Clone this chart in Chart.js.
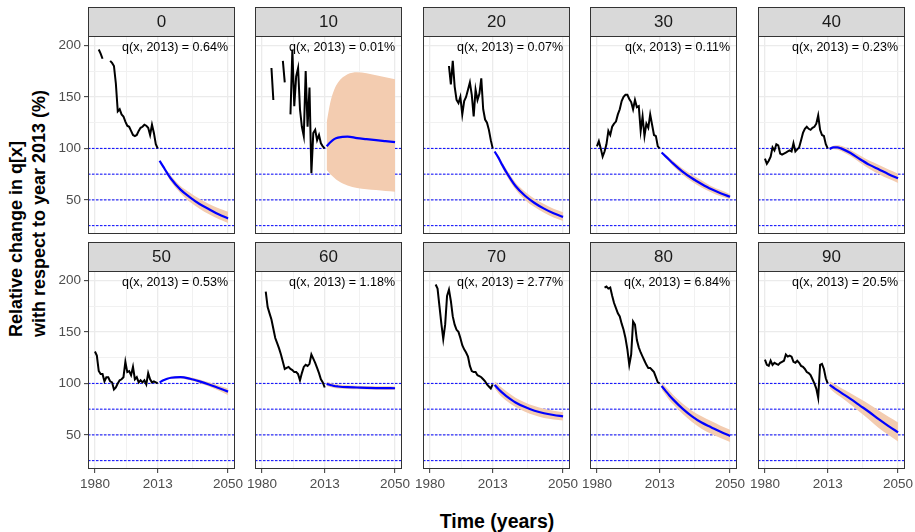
<!DOCTYPE html>
<html>
<head>
<meta charset="utf-8">
<script src="https://cdn.jsdelivr.net/npm/chart.js@4.4.0/dist/chart.umd.min.js"></script>
<style>
  html, body { margin: 0; padding: 0; background: #fff; overflow: hidden; }
  #wrap { position: relative; width: 915px; height: 532px; font-family: 'Liberation Sans', Arial, sans-serif; }
  #wrap canvas { position: absolute; }
  .ytitle { position: absolute; left: 5px; top: 337px; transform-origin: 0 0; transform: rotate(-90deg);
            white-space: pre; font-weight: bold; font-size: 18px; line-height: 23px; color: #000; }
  .xtitle { position: absolute; left: 347px; width: 300px; top: 511px; text-align: center;
            font-weight: bold; font-size: 19.5px; line-height: 20px; color: #000; }
</style>
</head>
<body>
<div id="wrap">
  <div class="ytitle">Relative change in q[x]
with respect to year 2013 (%)</div>
  <div class="xtitle">Time (years)</div>
</div>
<script>
// Facet labels (age) and the q(x, 2013) note for each panel
const ages = ["0", "10", "20", "30", "40", "50", "60", "70", "80", "90"];
const q2013 = ["0.64%", "0.01%", "0.07%", "0.11%", "0.23%", "0.53%", "1.18%", "2.77%", "6.84%", "20.5%"];

// Observed period
const histYears = [1980, 1981, 1982, 1983, 1984, 1985, 1986, 1987, 1988, 1989,
                   1990, 1991, 1992, 1993, 1994, 1995, 1996, 1997, 1998, 1999,
                   2000, 2001, 2002, 2003, 2004, 2005, 2006, 2007, 2008, 2009,
                   2010, 2011, 2012, 2013];
const histValues = [
  [null, null, 196, 192, 187, null, null, null, 185, 183, 180, 163, 136, 138, 133, 131, 126, 122, 121, 117, 113, 112, 113, 117, 120, 121, 123, 122, 120, 113, 123, 115, 104, 100],
  [null, null, null, null, null, 178, 147, null, null, null, null, 185, 164, null, null, 133, 196, 141, 170, 178, 138, 121, 112, 175, 121, 159, 76, 115, 118, 108, 113, 105, 102, 100],
  [null, null, null, null, null, null, null, null, null, null, 180, 162, 185, 160, 147, 144, 150, 133, 146, 150, 157, 164, 152, 131, 157, 147, 153, 168, 138, 128, 125, 118, 108, 100],
  [102, 107, 100, 92, 97, 104, 117, 113, 121, 124, 126, 133, 138, 146, 150, 152, 152, 148, 145, 138, 147, 140, 141, 117, 131, 112, 124, 120, 133, 123, 113, 112, 102, 100],
  [90, 85, 88, 92, 101, 98, 104, 103, 95, 94, 95, 96, 97, 98, 97, 105, 97, 99, 101, 108, 115, 119, 121, 119, 118, 120, 121, 124, 132, 118, 113, 112, 104, 100],
  [131, 127, 112, 109, 109, 102, 106, 106, 102, 101, 94, 96, 100, 103, 104, 106, 121, 111, 112, 108, 116, 104, 106, 101, 103, 101, 103, 99, 110, 104, 101, 102, 101, 100],
  [null, null, 189, 174, 168, 162, 153, 144, 139, 134, 128, 121, 114, 115, 116, 114, 113, 111, 111, 109, 103, 110, 116, 118, 117, 119, 128, 124, 120, 115, 110, 104, 101, 96],
  [null, null, null, 196, 192, 175, 158, 143, 157, 185, 191, 180, 165, 157, 152, 150, 144, 137, 133, 130, 126, 117, 112, 111, 111, 108, 107, 106, 104, 102, 99, 97, 95, 99],
  [null, null, null, null, 193, 194, 192, 193, 185, 178, 173, 168, 165, 158, 152, 144, 133, 118, 128, 160, 157, 142, 135, 130, 126, 122, 118, 115, 115, 113, 111, 106, 101, 100],
  [123, 118, 117, 122, 118, 120, 119, 118, 120, 121, 122, 128, 126, 127, 126, 121, 120, 122, 120, 117, 116, 114, 111, 110, 108, 104, 100, 95, 86, 118, 119, 114, 105, 100]
];

// Forecast period: central path and band
const fcYears = [2014, 2016, 2018, 2020, 2025, 2030, 2035, 2040, 2045, 2050];
const fcMean = [
  [88, 82, 76, 70.5, 60, 52.5, 46, 41, 36, 32],
  [102, 106, 109, 110.5, 111.5, 110, 109, 108, 107, 106],
  [97, 91, 84, 77.5, 63.5, 54, 47, 41.5, 37, 33.5],
  [96, 92.5, 89, 85.5, 77.5, 71, 65.5, 60.5, 56.5, 53],
  [99.5, 101, 101, 100, 95.5, 89.5, 84, 79.5, 75, 71],
  [101, 103, 104.5, 105.5, 106, 104.5, 102, 99, 95.5, 92],
  [99.5, 98.5, 97.5, 97, 96.3, 96, 95.7, 95.5, 95.4, 95.3],
  [98.5, 94.5, 91, 88, 81.5, 77, 73.5, 71, 69.3, 68],
  [97.5, 93, 88.5, 84.5, 75.5, 68, 62, 57.5, 53, 49],
  [98.5, 96, 93.5, 91, 85, 78.5, 72, 65, 58.5, 52.5]
];
const fcLower = [
  [87, 80.5, 74, 67.5, 56.5, 48, 41.5, 36, 31.5, 27.5],
  [79, 75, 71.5, 68.5, 64, 61.5, 60.3, 59.5, 58.7, 58],
  [96, 89, 81.5, 74.5, 60, 50, 43, 37.5, 33, 29.5],
  [95, 91, 87, 83, 74.5, 67.5, 62, 57.5, 53.5, 50.5],
  [98.5, 99.5, 99, 97.5, 92.5, 86, 80, 75, 70.5, 66.5],
  [100.5, 102.5, 103.8, 104.6, 104.8, 103, 100.2, 97, 93, 88.5],
  [97.5, 96.5, 95.5, 95, 94.5, 94.2, 94, 93.8, 93.7, 93.6],
  [95, 90.5, 86.5, 83.5, 77, 72.5, 69, 66.5, 65, 64],
  [94, 89, 84, 80, 70.5, 62.5, 56, 51, 47, 43],
  [95, 92, 89, 86.5, 79.5, 72, 64.5, 56.5, 50, 43.5]
];
const fcUpper = [
  [89, 83.5, 78, 73.5, 63.5, 57, 51, 46, 42, 38.5],
  [125, 145, 157, 164, 172, 174, 173, 171, 169, 167],
  [98, 93, 86.5, 80.5, 67, 58, 51, 46, 41.5, 38],
  [97, 94, 91, 88, 80.5, 74.5, 69, 63.5, 59.5, 55.5],
  [100.5, 102.5, 103, 102.5, 98.5, 93, 88, 84, 79.5, 75.5],
  [101.5, 103.5, 105.2, 106.4, 107.2, 106, 103.8, 101, 98, 95],
  [101.5, 100.5, 99.5, 99, 98.2, 97.8, 97.5, 97.3, 97.2, 97],
  [102, 98.5, 95.5, 92.5, 86, 81.5, 78, 75.5, 73.5, 72],
  [101, 97, 93, 89, 80.5, 73.5, 68, 63.5, 59, 55],
  [102, 100, 98, 95.5, 90.5, 85, 79.5, 73.5, 67.5, 62]
];

// Reference levels and axes
const refLevels = [25, 50, 75, 100];
const xTicks = [1980, 1996.5, 2013, 2031.5, 2050];
const xLabelled = [1980, 2013, 2050];
const yTicks = [25, 50, 75, 100, 125, 150, 175, 200];
const yLabelled = [50, 100, 150, 200];
const xRange = [1976.35, 2053.65];
const yRange = [16.9, 209.1];
const noteX = 2050, noteY = 198;

// Panel geometry
const colLeft = [88, 255, 423, 590, 758];
const rowTop = [7, 242];
const panelW = 147, plotH = 198, stripH = 29, axisW = 45, axisH = 25, padRight = 10;

const FONT = "'Liberation Sans', Arial, sans-serif";
Chart.defaults.font.family = FONT;
Chart.defaults.font.size = 13;
Chart.defaults.color = "#4D4D4D";

const pts = (xs, ys) => xs.map((x, k) => ({ x: x, y: ys[k] }));

// strip, frame and note
const facetPlugin = {
  id: "facet",
  afterDatasetsDraw(chart, args, opts) {
    const ctx = chart.ctx;
    const a = chart.chartArea;
    const x = chart.scales.x, y = chart.scales.y;
    ctx.save();
    ctx.fillStyle = "#000";
    ctx.font = "12.5px " + FONT;
    ctx.textAlign = "right";
    ctx.textBaseline = "middle";
    ctx.fillText("q(x, 2013) = " + opts.note, x.getPixelForValue(noteX), y.getPixelForValue(noteY));

    ctx.strokeStyle = "#333333";
    ctx.lineWidth = 1;
    ctx.strokeRect(Math.round(a.left) + 0.5, Math.round(a.top) + 0.5, Math.round(a.width) - 1, Math.round(a.height) - 1);

    const st = Math.round(a.top) - stripH;
    ctx.fillStyle = "#D9D9D9";
    ctx.fillRect(Math.round(a.left), st, Math.round(a.width), stripH);
    ctx.strokeRect(Math.round(a.left) + 0.5, st + 0.5, Math.round(a.width) - 1, stripH);
    ctx.fillStyle = "#1A1A1A";
    ctx.font = "17px " + FONT;
    ctx.textAlign = "center";
    ctx.fillText(opts.label, (a.left + a.right) / 2, st + stripH / 2 + 1);
    ctx.restore();
  }
};

const wrap = document.getElementById("wrap");

ages.forEach((age, i) => {
  const row = Math.floor(i / 5), col = i % 5;
  const showX = row === 1, showY = col === 0;

  const canvas = document.createElement("canvas");
  canvas.width = axisW + panelW + padRight;
  canvas.height = stripH + plotH + axisH;
  canvas.style.left = (colLeft[col] - axisW) + "px";
  canvas.style.top = rowTop[row] + "px";
  wrap.appendChild(canvas);

  const datasets = [
    {
      data: pts(histYears, histValues[i]),
      borderColor: "#000000", borderWidth: 2, spanGaps: false, order: 0
    },
    {
      data: pts(fcYears, fcMean[i]),
      borderColor: "#0000FF", borderWidth: 2.2, cubicInterpolationMode: "monotone", order: 0
    },
    {
      data: pts(fcYears, fcLower[i]),
      borderWidth: 0, borderColor: "rgba(0,0,0,0)", cubicInterpolationMode: "monotone", order: 2
    },
    {
      data: pts(fcYears, fcUpper[i]),
      borderWidth: 0, borderColor: "rgba(0,0,0,0)", cubicInterpolationMode: "monotone",
      fill: "-1", backgroundColor: "#F3CCB0", order: 2
    }
  ];
  refLevels.forEach(lvl => {
    datasets.push({
      data: pts(xRange, [lvl, lvl]),
      borderColor: "#0000FF", borderWidth: 1, borderDash: [2.5, 1.5], order: 3
    });
  });

  new Chart(canvas, {
    type: "line",
    data: { datasets: datasets },
    plugins: [facetPlugin],
    options: {
      responsive: false,
      animation: false,
      devicePixelRatio: 1,
      layout: { padding: { top: stripH, right: padRight, left: 0, bottom: 0 } },
      elements: { point: { radius: 0 }, line: { tension: 0 } },
      plugins: {
        legend: { display: false },
        tooltip: { enabled: false },
        facet: { label: age, note: q2013[i] }
      },
      scales: {
        x: {
          type: "linear",
          min: xRange[0], max: xRange[1],
          afterBuildTicks: ax => { ax.ticks = xTicks.map(v => ({ value: v })); },
          afterFit: ax => { ax.height = axisH; ax.paddingLeft = 0; ax.paddingRight = 0; },
          border: { display: false },
          grid: {
            color: c => xLabelled.includes(c.tick.value) ? "#EBEBEB" : "#F1F1F1",
            lineWidth: c => xLabelled.includes(c.tick.value) ? 1.3 : 1,
            tickColor: c => (showX && xLabelled.includes(c.tick.value)) ? "#333333" : "rgba(0,0,0,0)",
            tickLength: 4, tickWidth: 1
          },
          ticks: {
            display: showX, autoSkip: false, maxRotation: 0, padding: 3,
            color: "#4D4D4D", font: { size: 13.5 },
            callback: v => xLabelled.includes(v) ? String(v) : ""
          }
        },
        y: {
          type: "linear",
          min: yRange[0], max: yRange[1],
          afterBuildTicks: ax => { ax.ticks = yTicks.map(v => ({ value: v })); },
          afterFit: ax => { ax.width = axisW; ax.paddingTop = 0; ax.paddingBottom = 0; },
          border: { display: false },
          grid: {
            color: c => yLabelled.includes(c.tick.value) ? "#EBEBEB" : "#F1F1F1",
            lineWidth: c => yLabelled.includes(c.tick.value) ? 1.3 : 1,
            tickColor: c => (showY && yLabelled.includes(c.tick.value)) ? "#333333" : "rgba(0,0,0,0)",
            tickLength: 4, tickWidth: 1
          },
          ticks: {
            display: showY, autoSkip: false, padding: 3,
            color: "#4D4D4D", font: { size: 13.5 },
            callback: v => yLabelled.includes(v) ? String(v) : ""
          }
        }
      }
    }
  });
});
</script>
</body>
</html>
